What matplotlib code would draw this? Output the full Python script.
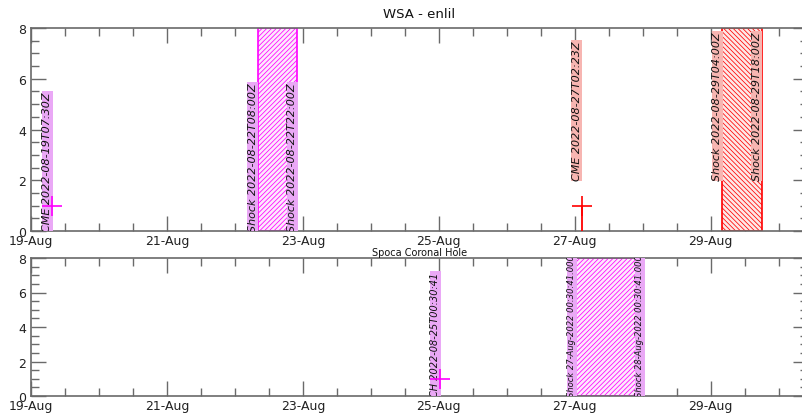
import matplotlib
matplotlib.use("Agg")
import matplotlib.pyplot as plt
import matplotlib.dates as mdates
from matplotlib.ticker import MultipleLocator
import pandas as pd

# --- WSA-enlil panel -------------------------------------------------------
wsa_cme_times = ["2022-08-19T07:30", "2022-08-27T02:23"]
wsa_cme_labels = ["CME 2022-08-19T07:30Z", "CME 2022-08-27T02:23Z"]
wsa_cme_label_y = [0, 2]
wsa_cme_marker_y = [1, 1]
wsa_cme_colors = ["magenta", "red"]

wsa_shock_start = ["2022-08-22T08:00", "2022-08-29T04:00"]
wsa_shock_end = ["2022-08-22T22:00", "2022-08-29T18:00"]
wsa_shock_labels_start = ["Shock 2022-08-22T08:00Z", "Shock 2022-08-29T04:00Z"]
wsa_shock_labels_end = ["Shock 2022-08-22T22:00Z", "Shock 2022-08-29T18:00Z"]
wsa_shock_label_y = [0, 2]
wsa_shock_colors = ["magenta", "red"]

# --- Spoca coronal hole panel ----------------------------------------------
ch_times = ["2022-08-25T00:30:41"]
ch_labels = ["CH 2022-08-25T00:30:41"]
ch_marker_y = [1]

ch_shock_start = ["2022-08-27T00:30:41"]
ch_shock_end = ["2022-08-28T00:30:41"]
ch_shock_labels_start = ["Shock 27-Aug-2022 00:30:41.000"]
ch_shock_labels_end = ["Shock 28-Aug-2022 00:30:41.000"]

x_range = ["2022-08-19T00:00", "2022-08-30T10:20"]
y_range = [0, 8]

label_bg = {"magenta": "#eaa8f6", "red": "#f7b5b1"}
span_bg = {"magenta": "#fde8fd", "red": "#fde8e7"}
hatch_of = {"magenta": "///////", "red": "\\\\\\\\\\\\\\"}
hatch_col = {"magenta": "#f040f0", "red": "#f03a3a"}

spine_col = "#6a6a6a"

plt.rcParams["hatch.linewidth"] = 0.55

W, H = 803, 414
fig = plt.figure(figsize=(W / 100, H / 100), dpi=100)
ax_top = fig.add_axes([31 / W, 1 - 232 / H, 777 / W, 203 / H])
ax_bot = fig.add_axes([31 / W, 1 - 397 / H, 777 / W, 138 / H])

t = pd.to_datetime


def style_axes(ax, title, title_size, title_pad):
    ax.set_xlim(t(x_range[0]), t(x_range[1]))
    ax.set_ylim(*y_range)
    ax.xaxis.set_major_locator(mdates.DayLocator(bymonthday=[19, 21, 23, 25, 27, 29]))
    ax.xaxis.set_minor_locator(mdates.HourLocator(byhour=[0, 12]))
    ax.xaxis.set_major_formatter(mdates.DateFormatter("%d-%b"))
    ax.yaxis.set_major_locator(MultipleLocator(2))
    ax.yaxis.set_minor_locator(MultipleLocator(0.5))
    ax.tick_params(which="both", direction="in", top=True, right=True,
                   color=spine_col, labelcolor="#222222", labelsize=9)
    ax.tick_params(which="major", length=10.5, width=1.0)
    ax.tick_params(which="minor", length=5.5, width=1.0)
    ax.tick_params(axis="x", which="major", pad=2)
    ax.tick_params(axis="y", which="major", pad=3.5)
    for s in ax.spines.values():
        s.set_color(spine_col)
        s.set_linewidth(1.2)
    ax.set_title(title, fontsize=title_size, pad=title_pad, color="#111111")


def vlabel(ax, x, y, text, color, size):
    ax.text(t(x), y, text, rotation=90, ha="right", va="bottom",
            fontsize=size, style="italic", color="#111111", zorder=4,
            clip_on=True,
            bbox=dict(facecolor=label_bg[color], edgecolor="none", pad=0.3))


def shock_span(ax, x0, x1, color):
    span = ax.axvspan(t(x0), t(x1), ymin=0, ymax=1, facecolor=span_bg[color],
                      edgecolor=hatch_col[color], hatch=hatch_of[color],
                      linewidth=1.2, zorder=2)
    span.set_edgecolor(color)


style_axes(ax_top, "WSA - enlil", 9.5, 8)
style_axes(ax_bot, "Spoca Coronal Hole", 7, 2)

# top panel: CME arrivals
for x, lab, ly, my, c in zip(wsa_cme_times, wsa_cme_labels, wsa_cme_label_y,
                             wsa_cme_marker_y, wsa_cme_colors):
    vlabel(ax_top, x, ly, lab, c, 8)
    ax_top.plot([t(x), t(x)], [0, my], color=c, lw=1.3, zorder=3)
    ax_top.plot([t(x)], [my], marker="+", ms=15, mew=1.2, color=c, zorder=5)

# top panel: shock windows
for x0, x1, l0, l1, ly, c in zip(wsa_shock_start, wsa_shock_end,
                                 wsa_shock_labels_start, wsa_shock_labels_end,
                                 wsa_shock_label_y, wsa_shock_colors):
    shock_span(ax_top, x0, x1, c)
    vlabel(ax_top, x0, ly, l0, c, 8)
    vlabel(ax_top, x1, ly, l1, c, 8)

# bottom panel: coronal hole
for x, lab, my in zip(ch_times, ch_labels, ch_marker_y):
    vlabel(ax_bot, x, 0, lab, "magenta", 7)
    ax_bot.plot([t(x)], [my], marker="+", ms=15, mew=1.2, color="magenta", zorder=5)

for x0, x1, l0, l1 in zip(ch_shock_start, ch_shock_end,
                          ch_shock_labels_start, ch_shock_labels_end):
    shock_span(ax_bot, x0, x1, "magenta")
    vlabel(ax_bot, x0, 0, l0, "magenta", 6)
    vlabel(ax_bot, x1, 0, l1, "magenta", 6)

fig.savefig("out.png", dpi=100)
